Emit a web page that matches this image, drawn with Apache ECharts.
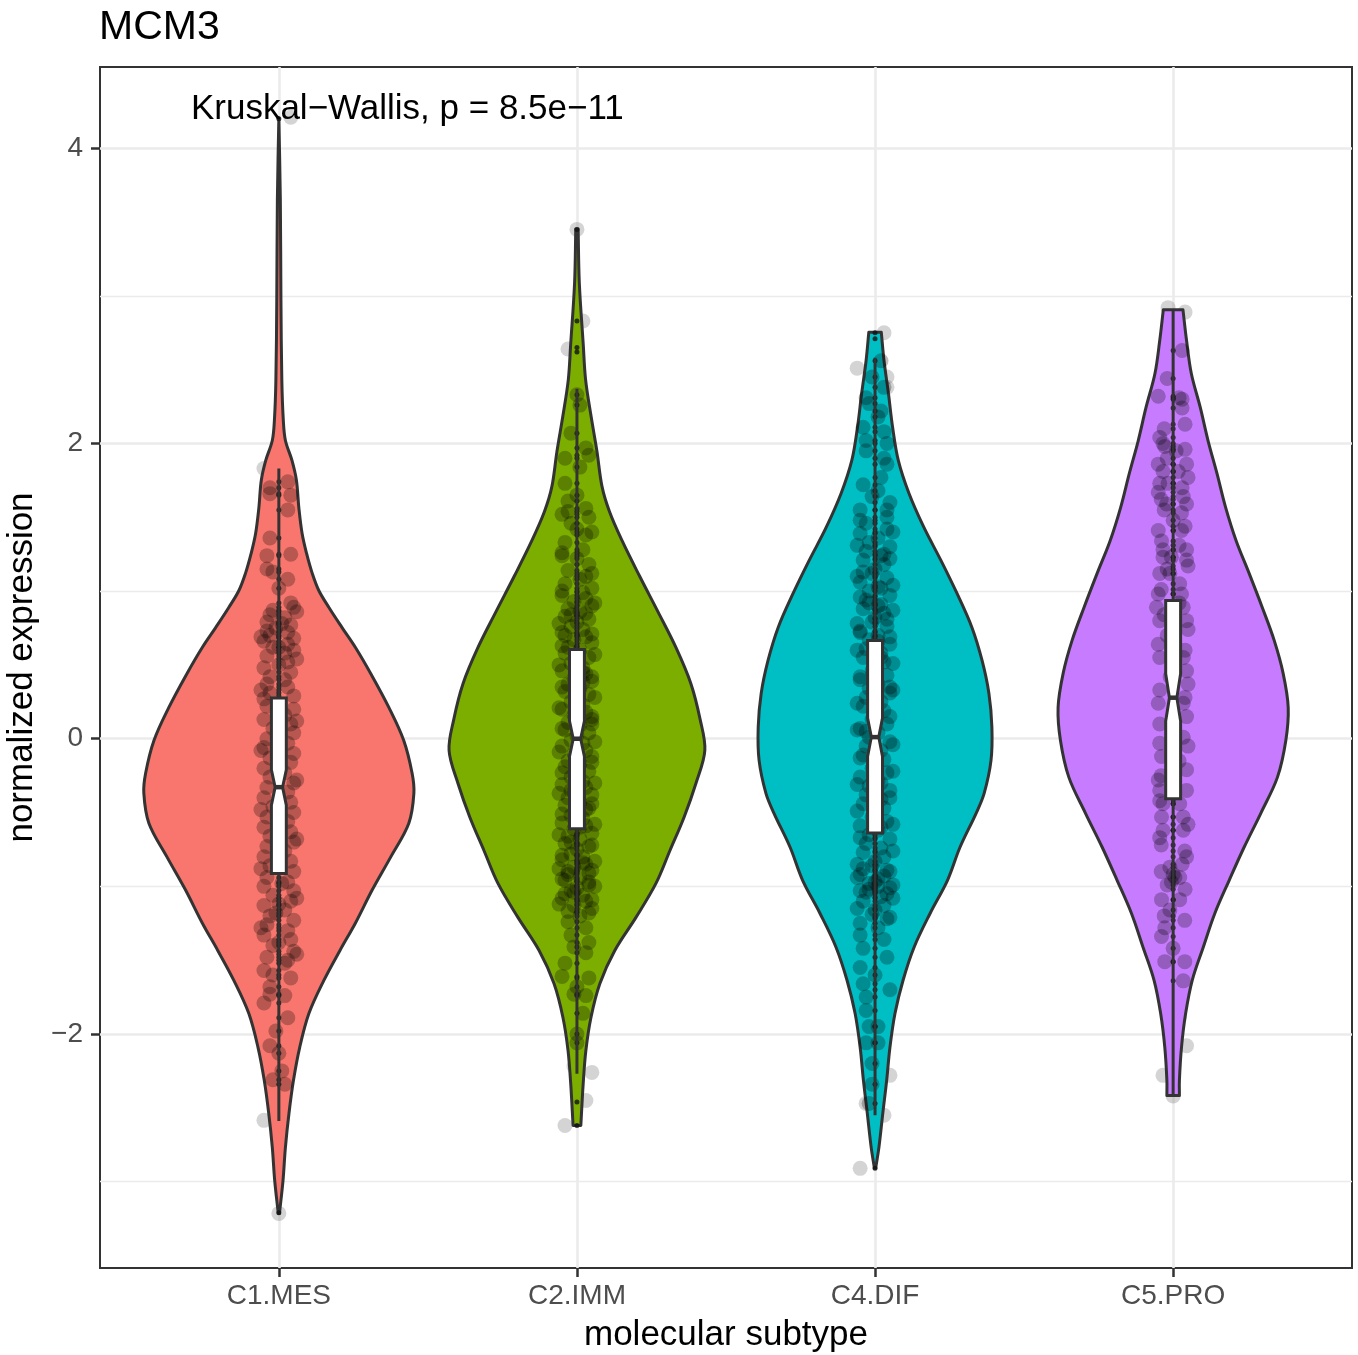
<!DOCTYPE html>
<html>
<head>
<meta charset="utf-8">
<script src="https://cdn.jsdelivr.net/npm/echarts@6/dist/echarts.min.js"></script>
<style>
html,body{margin:0;padding:0;background:#ffffff;}
#chart{width:1358px;height:1355px;}
</style>
</head>
<body>
<div id="chart"></div>
<script>
// ---------------- DATA ----------------
const categories = ['C1.MES', 'C2.IMM', 'C4.DIF', 'C5.PRO'];
const yTickValues = [-2, 0, 2, 4];
const yMinorValues = [-3, -1, 1, 3];
const plotTitle = 'MCM3';
const testLabel = 'Kruskal\u2212Wallis, p = 8.5e\u221211';
const annotationAt = [0.705, 4.265];          // data position of the test label (left/middle)

// violin outlines: [expression value, half width in category units], top to bottom
const violinC1 = [[4.207,0],[3.645,0.005],[2.968,0.007],[2.426,0.010],[2.155,0.015],[2.020,0.022],[1.885,0.044],[1.749,0.059],[1.566,0.067],[1.390,0.078],[1.255,0.093],[1.120,0.112],[1.004,0.134],[0.889,0.168],[0.753,0.212],[0.618,0.257],[0.442,0.308],[0.212,0.369],[-0.012,0.419],[-0.234,0.447],[-0.369,0.453],[-0.572,0.436],[-0.802,0.375],[-1.025,0.313],[-1.248,0.257],[-1.434,0.205],[-1.637,0.151],[-1.860,0.101],[-2.090,0.070],[-2.314,0.049],[-2.537,0.034],[-2.768,0.022],[-2.991,0.014],[-3.215,0.002]];
const violinC2 = [[3.452,0.004],[3.085,0.008],[2.674,0.021],[2.433,0.029],[2.189,0.047],[1.948,0.067],[1.709,0.084],[1.539,0.109],[1.343,0.151],[1.102,0.210],[0.859,0.272],[0.618,0.332],[0.374,0.382],[0.133,0.413],[-0.079,0.429],[-0.303,0.399],[-0.533,0.359],[-0.757,0.312],[-0.980,0.265],[-1.210,0.198],[-1.434,0.127],[-1.658,0.077],[-1.888,0.047],[-2.111,0.030],[-2.335,0.021],[-2.620,0.013]];
const violinC4 = [[2.753,0.021],[2.562,0.030],[2.338,0.045],[2.108,0.059],[1.885,0.078],[1.661,0.114],[1.431,0.164],[1.208,0.221],[0.984,0.275],[0.754,0.325],[0.530,0.359],[0.307,0.382],[0.077,0.392],[-0.147,0.389],[-0.370,0.366],[-0.505,0.339],[-0.735,0.285],[-0.959,0.243],[-1.182,0.185],[-1.412,0.131],[-1.636,0.094],[-1.860,0.067],[-2.090,0.050],[-2.314,0.039],[-2.537,0.026],[-2.768,0.013],[-2.910,0.002]];
const violinC5 = [[2.905,0.033],[2.697,0.045],[2.474,0.061],[2.244,0.091],[2.020,0.117],[1.797,0.147],[1.567,0.176],[1.343,0.211],[1.120,0.255],[0.889,0.299],[0.666,0.339],[0.443,0.369],[0.212,0.386],[-0.012,0.378],[-0.260,0.350],[-0.505,0.294],[-0.735,0.238],[-0.959,0.188],[-1.182,0.140],[-1.412,0.101],[-1.636,0.064],[-1.860,0.042],[-2.090,0.028],[-2.314,0.021],[-2.416,0.021]];

// notched boxes: [lower whisker, Q1, notch low, median, notch high, Q3, upper whisker]
const boxC1 = [-2.59, -0.912, -0.45, -0.328, -0.21, 0.276, 1.83];
const boxC2 = [-2.27, -0.609, -0.12, 0.0, 0.12, 0.605, 2.37];
const boxC4 = [-2.55, -0.639, -0.12, 0.011, 0.14, 0.666, 2.58];
const boxC5 = [-2.42, -0.406, 0.12, 0.278, 0.44, 0.937, 2.90];

// boxplot outliers
const outC1 = [4.2, -3.21];
const outC2 = [3.45, 2.83, 2.65, 2.62, -2.46, -2.62];
const outC4 = [2.75, 2.71, -2.91];
const outC5 = [];

// jittered points drawn above the violin: [value, horizontal jitter]
const ptsC1 = [[1.74,0.03],[1.70,-0.03],[1.66,-0.03],[1.65,0.04],[1.55,0.03],[1.36,-0.03],[1.25,0.04],[1.24,-0.04],[1.15,-0.04],[1.13,-0.02],[1.08,0.03],[1.02,0.00],
[0.92,0.04],[0.89,0.05],[0.87,-0.02],[0.86,0.06],[0.84,-0.03],[0.82,0.02],[0.79,-0.04],[0.78,0.01],[0.77,0.04],[0.75,-0.01],[0.73,-0.04],[0.72,0.03],[0.70,-0.03],[0.69,-0.06],[0.68,0.05],[0.66,-0.05],[0.64,0.03],[0.62,-0.02],[0.62,0.00],[0.60,0.05],[0.58,0.02],[0.56,-0.04],[0.54,0.06],[0.52,0.03],[0.50,0.00],[0.48,-0.05],[0.45,0.04],[0.42,-0.03],[0.40,0.02],[0.37,-0.04],[0.35,0.03],[0.33,-0.06],[0.31,-0.03],[0.29,0.05],[0.27,-0.05],
[0.22,-0.04],[0.20,0.05],[0.16,0.02],[0.13,-0.05],[0.12,0.06],[0.10,0.04],[0.07,-0.02],[0.04,0.05],[0.00,-0.04],[-0.03,0.03],[-0.06,-0.05],[-0.08,-0.06],[-0.10,0.05],[-0.13,-0.03],[-0.16,0.04],[-0.20,-0.05],[-0.23,0.02],[-0.26,-0.03],[-0.28,0.06],[-0.30,0.05],[-0.33,-0.04],[-0.36,0.03],[-0.40,-0.05],[-0.43,0.04],[-0.46,-0.02],[-0.48,-0.06],[-0.50,0.05],[-0.53,-0.04],[-0.56,0.03],[-0.60,-0.05],[-0.63,0.04],[-0.66,-0.03],[-0.68,0.06],[-0.70,0.05],[-0.73,-0.04],[-0.76,0.02],[-0.80,-0.05],[-0.83,0.04],[-0.86,-0.03],[-0.88,-0.06],[-0.90,0.05],
[-0.94,-0.04],[-0.97,0.03],[-0.98,0.01],[-1.00,-0.05],[-1.03,0.05],[-1.06,-0.02],[-1.08,0.06],[-1.10,0.04],[-1.12,0.00],[-1.13,-0.05],[-1.16,0.02],[-1.18,-0.01],[-1.20,-0.03],[-1.23,0.05],[-1.26,-0.04],[-1.28,-0.06],[-1.30,0.03],[-1.33,-0.05],[-1.36,0.04],[-1.38,0.00],[-1.40,-0.02],[-1.44,0.05],[-1.46,0.06],[-1.48,-0.04],[-1.50,0.03],[-1.52,0.02],[-1.57,-0.05],[-1.60,-0.02],[-1.62,0.04],[-1.68,-0.03],[-1.73,-0.03],[-1.74,0.02],[-1.79,-0.05],[-1.89,0.03],[-1.98,-0.01],[-2.08,-0.03],[-2.13,0.00],[-2.25,0.01],[-2.31,-0.02],[-2.34,0.02]];

const ptsC2 = [[2.33,0.00],[2.26,0.01],[2.07,-0.02],[1.97,0.03],[1.92,0.04],[1.90,-0.04],[1.84,0.01],[1.73,-0.04],[1.65,0.00],[1.61,-0.03],[1.56,0.03],[1.54,-0.03],[1.52,-0.05],[1.50,0.04],[1.46,-0.02],[1.42,0.00],[1.40,0.05],[1.38,0.03],[1.33,-0.04],[1.28,0.02],[1.26,-0.05],[1.24,-0.05],[1.22,0.00],[1.18,0.04],[1.14,-0.03],[1.12,0.05],[1.10,0.03],[1.08,0.01],[1.05,-0.04],[1.02,0.05],[1.00,-0.05],[0.99,0.02],
[0.97,-0.05],[0.95,0.03],[0.93,-0.01],[0.92,0.06],[0.90,0.05],[0.88,-0.03],[0.86,0.01],[0.85,0.03],[0.84,-0.02],[0.83,-0.04],[0.81,0.04],[0.79,0.00],[0.78,-0.06],[0.76,-0.02],[0.74,0.02],[0.72,-0.05],[0.71,0.05],[0.70,-0.04],[0.69,0.03],[0.67,-0.01],[0.65,0.05],[0.63,-0.05],[0.62,-0.03],[0.60,0.01],[0.58,-0.04],[0.57,0.06],[0.55,0.04],[0.53,0.00],[0.51,-0.02],[0.50,-0.06],[0.48,0.02],[0.46,-0.05],[0.45,0.02],[0.44,0.03],[0.42,0.05],[0.41,-0.01],[0.39,0.05],[0.38,0.02],[0.37,-0.03],[0.35,-0.05],[0.34,0.01],[0.32,-0.04],[0.30,0.04],[0.28,0.06],[0.27,0.00],[0.25,-0.02],[0.23,0.02],[0.21,-0.06],[0.20,-0.05],[0.18,0.03],[0.16,-0.01],[0.15,0.05],[0.13,0.05],[0.11,-0.03],[0.10,0.05],[0.09,0.01],[0.07,-0.05],[0.06,-0.04],[0.04,0.04],[0.02,0.00],
[-0.01,-0.02],[-0.02,0.06],[-0.03,0.02],[-0.05,-0.05],[-0.08,0.03],[-0.09,-0.06],[-0.10,-0.01],[-0.12,0.05],[-0.15,-0.03],[-0.16,0.05],[-0.17,0.01],[-0.19,-0.04],[-0.22,0.04],[-0.23,-0.05],[-0.24,0.00],[-0.26,-0.02],[-0.29,0.02],[-0.30,0.06],[-0.31,-0.05],[-0.33,0.03],[-0.35,-0.02],[-0.36,-0.01],[-0.37,-0.06],[-0.38,0.05],[-0.40,-0.03],[-0.43,0.01],[-0.44,0.05],[-0.45,-0.04],[-0.47,0.04],[-0.48,0.03],[-0.50,0.00],[-0.51,-0.05],[-0.52,-0.02],[-0.54,0.02],[-0.57,-0.05],[-0.58,0.06],[-0.59,0.03],[-0.60,0.01],[-0.61,-0.01],[-0.64,0.05],[-0.65,-0.06],[-0.66,-0.03],[-0.68,0.01],[-0.70,-0.02],[-0.71,-0.04],[-0.72,0.05],[-0.73,0.04],[-0.75,0.00],[-0.78,-0.02],[-0.79,-0.05],[-0.80,0.02],[-0.82,-0.05],[-0.83,0.06],[-0.84,0.02],[-0.85,0.03],[-0.87,-0.01],[-0.88,-0.06],[-0.89,0.05],[-0.90,-0.03],[-0.91,0.04],[-0.92,-0.03],[-0.94,0.01],[-0.95,-0.05],[-0.96,-0.04],[-0.97,0.04],[-0.99,0.04],[-1.00,0.06],[-1.01,0.00],[-1.03,-0.02],[-1.04,-0.01],[-1.05,-0.04],[-1.06,0.02],[-1.08,-0.05],[-1.09,0.05],[-1.10,0.03],[-1.12,-0.06],[-1.13,-0.01],[-1.15,0.05],[-1.17,-0.03],[-1.18,0.04],[-1.20,0.01],
[-1.24,-0.03],[-1.28,0.03],[-1.33,-0.02],[-1.38,0.04],[-1.41,-0.01],[-1.45,0.03],[-1.52,-0.04],[-1.61,-0.05],[-1.62,0.04],[-1.68,0.00],[-1.73,-0.01],[-1.74,0.03],[-1.86,0.02],[-2.00,0.00],[-2.06,0.00]];

const ptsC4 = [[2.56,0.02],[2.45,-0.01],[2.38,0.03],[2.31,-0.03],[2.27,-0.02],[2.22,0.02],[2.18,0.01],[2.11,-0.04],[2.08,0.03],[2.02,-0.03],[2.00,0.04],[1.95,-0.03],[1.90,0.03],[1.86,0.04],[1.77,0.02],[1.72,-0.04],[1.68,0.01],[1.64,-0.01],[1.60,0.05],[1.55,-0.05],[1.55,0.04],[1.50,0.04],[1.48,-0.05],[1.46,-0.03],
[1.42,0.04],[1.40,0.06],[1.39,-0.05],[1.36,0.01],[1.33,-0.02],[1.31,-0.06],[1.30,0.05],[1.27,-0.03],[1.25,0.03],[1.24,0.02],[1.22,0.05],[1.21,-0.04],[1.18,0.03],[1.15,0.00],[1.13,-0.04],[1.12,-0.01],[1.10,-0.06],[1.09,0.04],[1.06,-0.05],[1.04,0.06],[1.03,0.01],[1.02,0.02],[1.00,-0.02],[0.97,0.05],[0.96,-0.05],[0.94,-0.03],[0.92,-0.02],[0.91,0.02],[0.90,0.01],[0.88,-0.04],[0.87,0.06],[0.85,0.03],[0.82,0.00],[0.81,0.04],[0.79,-0.01],[0.78,-0.06],[0.76,0.04],[0.73,-0.05],[0.72,-0.05],[0.70,0.01],[0.69,0.05],[0.67,-0.02],[0.66,0.01],[0.64,0.05],[0.61,-0.03],[0.60,-0.06],[0.58,0.02],[0.55,-0.04],[0.55,0.02],[0.52,0.03],[0.51,0.06],[0.49,0.00],[0.46,-0.01],[0.43,0.04],[0.42,-0.05],[0.40,-0.05],[0.37,0.01],[0.35,0.05],[0.34,-0.02],[0.33,0.06],[0.31,0.05],[0.28,-0.03],[0.25,0.02],[0.24,-0.06],[0.22,-0.04],[0.19,0.03],[0.16,0.00],[0.15,0.05],[0.13,-0.01],[0.10,0.04],[0.07,-0.05],[0.06,-0.06],[0.05,-0.03],[0.04,0.01],[0.01,-0.02],
[-0.02,0.05],[-0.04,0.06],[-0.05,-0.03],[-0.08,0.02],[-0.11,-0.04],[-0.13,-0.05],[-0.14,0.03],[-0.17,0.00],[-0.20,-0.01],[-0.22,0.06],[-0.23,0.04],[-0.26,-0.05],[-0.29,0.01],[-0.30,0.02],[-0.31,-0.06],[-0.32,-0.02],[-0.35,0.05],[-0.38,-0.03],[-0.40,0.05],[-0.41,0.02],[-0.44,-0.04],[-0.47,0.03],[-0.49,-0.06],[-0.50,0.00],[-0.53,-0.01],[-0.56,0.04],[-0.58,0.06],[-0.59,-0.05],[-0.60,0.02],[-0.62,0.01],[-0.65,-0.02],[-0.67,-0.05],[-0.68,0.05],[-0.71,-0.03],[-0.74,0.02],[-0.76,0.06],[-0.77,-0.04],[-0.80,0.03],[-0.83,0.00],[-0.85,-0.06],[-0.86,-0.01],[-0.88,-0.04],[-0.89,0.04],[-0.90,0.05],[-0.92,-0.05],[-0.93,0.03],[-0.94,-0.06],[-0.95,0.01],[-0.97,0.00],[-0.98,-0.02],[-0.99,0.06],[-1.00,0.01],[-1.01,0.05],[-1.02,-0.02],[-1.03,-0.05],[-1.04,-0.03],[-1.05,0.04],[-1.07,0.02],[-1.08,0.06],[-1.10,-0.04],[-1.13,0.03],[-1.15,-0.06],[-1.16,0.00],[-1.19,-0.01],[-1.21,0.05],[-1.22,0.04],[-1.25,-0.05],[-1.28,0.01],
[-1.33,-0.05],[-1.36,0.03],[-1.42,-0.04],[-1.48,0.04],[-1.55,-0.05],[-1.60,0.00],[-1.66,-0.04],[-1.70,0.05],[-1.75,-0.03],[-1.84,-0.03],[-1.95,-0.02],[-1.95,0.01],[-2.06,-0.03],[-2.06,0.01],[-2.20,-0.01],[-2.34,-0.01],[-2.47,-0.02]];

const ptsC5 = [[2.63,0.03],[2.44,-0.02],[2.32,-0.05],[2.31,0.02],[2.30,0.03],[2.24,0.03],[2.13,0.04],[2.10,-0.03],[2.04,-0.045],[2.00,-0.034],[1.98,-0.028],[1.96,0.04],[1.95,0.01],[1.90,-0.02],[1.86,-0.05],[1.86,0.045],[1.81,-0.034],[1.81,0.017],[1.77,0.05],[1.73,-0.045],[1.73,-0.017],[1.70,0.03],[1.67,-0.05],[1.64,0.034],[1.62,-0.04],[1.59,-0.022],[1.59,0.045],[1.55,-0.03],[1.53,0.028],[1.48,0.00],[1.44,0.04],[1.41,-0.05],[1.41,0.028],[1.34,-0.039],[1.31,0.02],[1.28,-0.034],[1.28,0.045],[1.23,-0.034],[1.23,-0.006],[1.21,0.045],[1.17,0.05],[1.15,-0.02],[1.12,-0.045],[1.12,-0.011],[1.05,0.022],[1.01,-0.04],[0.98,-0.05],[0.98,0.028],[0.92,0.02],[0.89,-0.056],[0.89,0.034],[0.84,-0.03],[0.80,-0.045],[0.80,0.045],[0.74,0.05],[0.70,-0.02],[0.64,-0.05],[0.60,0.04],[0.55,-0.045],[0.55,0.034],[0.46,0.045],[0.42,-0.01],[0.37,0.05],[0.33,-0.045],[0.28,0.04],[0.24,-0.05],[0.24,0.034],[0.15,0.045],[0.10,-0.045],[0.01,0.034],[-0.03,-0.045],[-0.05,0.05],[-0.12,-0.039],[-0.15,0.02],[-0.21,0.045],[-0.25,-0.04],[-0.28,-0.05],[-0.35,0.045],[-0.35,-0.045],[-0.42,-0.045],[-0.44,-0.034],[-0.44,0.022],[-0.53,-0.039],[-0.53,0.034],[-0.58,0.05],[-0.62,-0.034],[-0.62,0.034],[-0.67,-0.045],[-0.72,-0.04],[-0.76,0.039],[-0.80,0.045],[-0.85,0.03],[-0.87,-0.011],[-0.90,-0.04],[-0.92,0.00],[-0.94,0.006],[-0.94,0.022],[-0.97,-0.006],[-0.99,-0.02],[-1.02,0.04],[-1.09,-0.039],[-1.09,0.022],[-1.16,-0.011],[-1.20,-0.03],[-1.23,0.039],[-1.28,-0.028],[-1.34,-0.039],[-1.42,0.00],[-1.51,-0.028],[-1.51,0.039],[-1.64,0.034]];

// points of the lower (grey) layer that show outside the violins: [value, horizontal jitter]
const greyC1 = [[4.21,0.04],[1.83,-0.05],[-2.585,-0.05],[-3.215,0.00]];
const greyC2 = [[3.45,0.00],[2.83,0.02],[2.64,-0.03],[2.62,0.00],[-2.22,-0.01],[-2.26,0.05],[-2.45,0.03],[-2.62,-0.04]];
const greyC4 = [[2.75,0.03],[2.51,-0.06],[2.45,0.04],[2.38,0.04],[-2.28,0.05],[-2.47,-0.03],[-2.55,0.03],[-2.91,-0.05]];
const greyC5 = [[2.92,-0.017],[2.89,0.04],[-1.89,0.02],[-2.08,0.045],[-2.28,-0.034],[-2.42,0.00]];

// ---------------- CHART ----------------
const FONT = '"Liberation Sans", Arial, Helvetica, sans-serif';
const fills = ['#F8766D', '#7CAE00', '#00BFC4', '#C77CFF'];
const ink = '#333333';
const violins = [violinC1, violinC2, violinC4, violinC5];
const boxes = [boxC1, boxC2, boxC4, boxC5];
const outliers = [outC1, outC2, outC4, outC5];
const points = [ptsC1, ptsC2, ptsC4, ptsC5];
const greys = [greyC1, greyC2, greyC4, greyC5];

const jitterData = [];
const greyData = [];
const centerData = [];
points.forEach((arr, i) => arr.forEach(p => { jitterData.push([i + 1 + p[1], p[0]]); centerData.push([i + 1, p[0]]); }));
greys.forEach((arr, i) => arr.forEach(p => greyData.push([i + 1 + p[1], p[0]])));
outliers.forEach((arr, i) => arr.forEach(v => centerData.push([i + 1, v])));

function renderViolin(params, api) {
  const i = params.dataIndex;
  const cx = i + 1;
  const prof = violins[i];
  const right = prof.map(p => api.coord([cx + p[1], p[0]]));
  const left = prof.slice().reverse().map(p => api.coord([cx - p[1], p[0]]));
  // repeat the end points of each side so the trimmed ends keep square corners when smoothed
  const pts = [right[0]].concat(right, [right[right.length - 1]], [left[0]], left, [left[left.length - 1]]);
  return {
    type: 'polygon',
    shape: { points: pts, smooth: 0.35 },
    style: { fill: fills[i], stroke: ink, lineWidth: 3, lineJoin: 'round' }
  };
}

const BOX_HALF = 0.025;
function renderBox(params, api) {
  const i = params.dataIndex;
  const cx = i + 1;
  const b = boxes[i];
  const hw = BOX_HALF, nw = BOX_HALF * 0.5;
  const c = (x, y) => api.coord([x, y]);
  const lw = b[0], q1 = b[1], nl = b[2], med = b[3], nu = b[4], q3 = b[5], uw = b[6];
  const poly = [c(cx - hw, q3), c(cx + hw, q3), c(cx + hw, nu), c(cx + nw, med), c(cx + hw, nl), c(cx + hw, q1),
                c(cx - hw, q1), c(cx - hw, nl), c(cx - nw, med), c(cx - hw, nu)];
  const top = c(cx, uw), bot = c(cx, lw), m1 = c(cx - nw, med), m2 = c(cx + nw, med);
  return {
    type: 'group',
    children: [
      { type: 'line', shape: { x1: top[0], y1: top[1], x2: bot[0], y2: bot[1] }, style: { stroke: ink, lineWidth: 3 } },
      { type: 'polygon', shape: { points: poly }, style: { fill: '#ffffff', stroke: ink, lineWidth: 3, lineJoin: 'miter' } },
      { type: 'line', shape: { x1: m1[0], y1: m1[1], x2: m2[0], y2: m2[1] }, style: { stroke: ink, lineWidth: 4.5 } }
    ]
  };
}

const chart = echarts.init(document.getElementById('chart'), null, { renderer: 'canvas' });
const yMin = -3.585, yMax = 4.55;
chart.setOption({
  animation: false,
  backgroundColor: '#ffffff',
  textStyle: { fontFamily: FONT },
  title: {
    text: plotTitle, left: 94, top: 2,
    textStyle: { fontFamily: FONT, fontSize: 41, fontWeight: 'normal', color: '#000000', lineHeight: 42 }
  },
  grid: { left: 100, right: 6, top: 67, bottom: 87, show: true, borderColor: ink, borderWidth: 2, backgroundColor: '#ffffff', containLabel: false, outerBoundsMode: 'none' },
  xAxis: {
    type: 'value', min: 0.4, max: 4.6,
    name: 'molecular subtype', nameLocation: 'middle', nameGap: 50,
    nameTextStyle: { fontFamily: FONT, fontSize: 35, color: '#000000', lineHeight: 35 },
    axisLine: { show: false, onZero: false },
    axisTick: { show: true, customValues: [1, 2, 3, 4], length: 9, lineStyle: { color: ink, width: 2.5 } },
    axisLabel: { customValues: [1, 2, 3, 4], formatter: v => categories[Math.round(v) - 1], fontFamily: FONT, fontSize: 28, color: '#4d4d4d', margin: 14, lineHeight: 28 },
    splitLine: { show: true, lineStyle: { color: '#ebebeb', width: 2.6 } }
  },
  yAxis: [{
    type: 'value', min: yMin, max: yMax,
    name: 'normalized expression', nameLocation: 'middle', nameGap: 56,
    nameTextStyle: { fontFamily: FONT, fontSize: 35, color: '#000000', lineHeight: 35 },
    axisLine: { show: false, onZero: false },
    axisTick: { show: true, customValues: yTickValues, length: 9, lineStyle: { color: ink, width: 2.5 } },
    axisLabel: { customValues: yTickValues, formatter: v => String(v).replace('-', '\u2212'), fontFamily: FONT, fontSize: 28, color: '#4d4d4d', margin: 17 },
    splitLine: { show: true, lineStyle: { color: '#ebebeb', width: 2.6 } }
  }, {
    type: 'value', min: yMin, max: yMax, position: 'left',
    axisLine: { show: false, onZero: false },
    axisTick: { show: false, customValues: yMinorValues },
    axisLabel: { show: false, customValues: yMinorValues },
    splitLine: { show: true, lineStyle: { color: '#ebebeb', width: 1.4 } }
  }],
  series: [
    {
      type: 'scatter', name: 'under', z: 1, silent: true,
      data: greyData, symbol: 'circle', symbolSize: 15,
      itemStyle: { color: 'rgba(120,120,120,0.4)' }
    },
    {
      type: 'custom', name: 'violin', z: 2, silent: true,
      data: categories.map((c, i) => [i + 1]),
      renderItem: renderViolin
    },
    {
      type: 'scatter', name: 'jitter', z: 3, silent: true,
      data: jitterData, symbol: 'circle', symbolSize: 15,
      itemStyle: { color: 'rgba(0,0,0,0.32)' }
    },
    {
      type: 'scatter', name: 'center', z: 4, silent: true,
      data: centerData, symbol: 'circle', symbolSize: 5,
      itemStyle: { color: '#111111' }
    },
    {
      type: 'custom', name: 'box', z: 5, silent: true,
      data: categories.map((c, i) => [i + 1]),
      renderItem: renderBox
    }
  ]
});

const annPx = chart.convertToPixel({ gridIndex: 0 }, annotationAt);
chart.setOption({
  graphic: [{
    type: 'text', x: annPx[0], y: annPx[1], z: 10, silent: true,
    style: { text: testLabel, fontFamily: FONT, fontSize: 35, fill: '#000000', align: 'left', verticalAlign: 'middle' }
  }]
});
</script>
</body>
</html>
